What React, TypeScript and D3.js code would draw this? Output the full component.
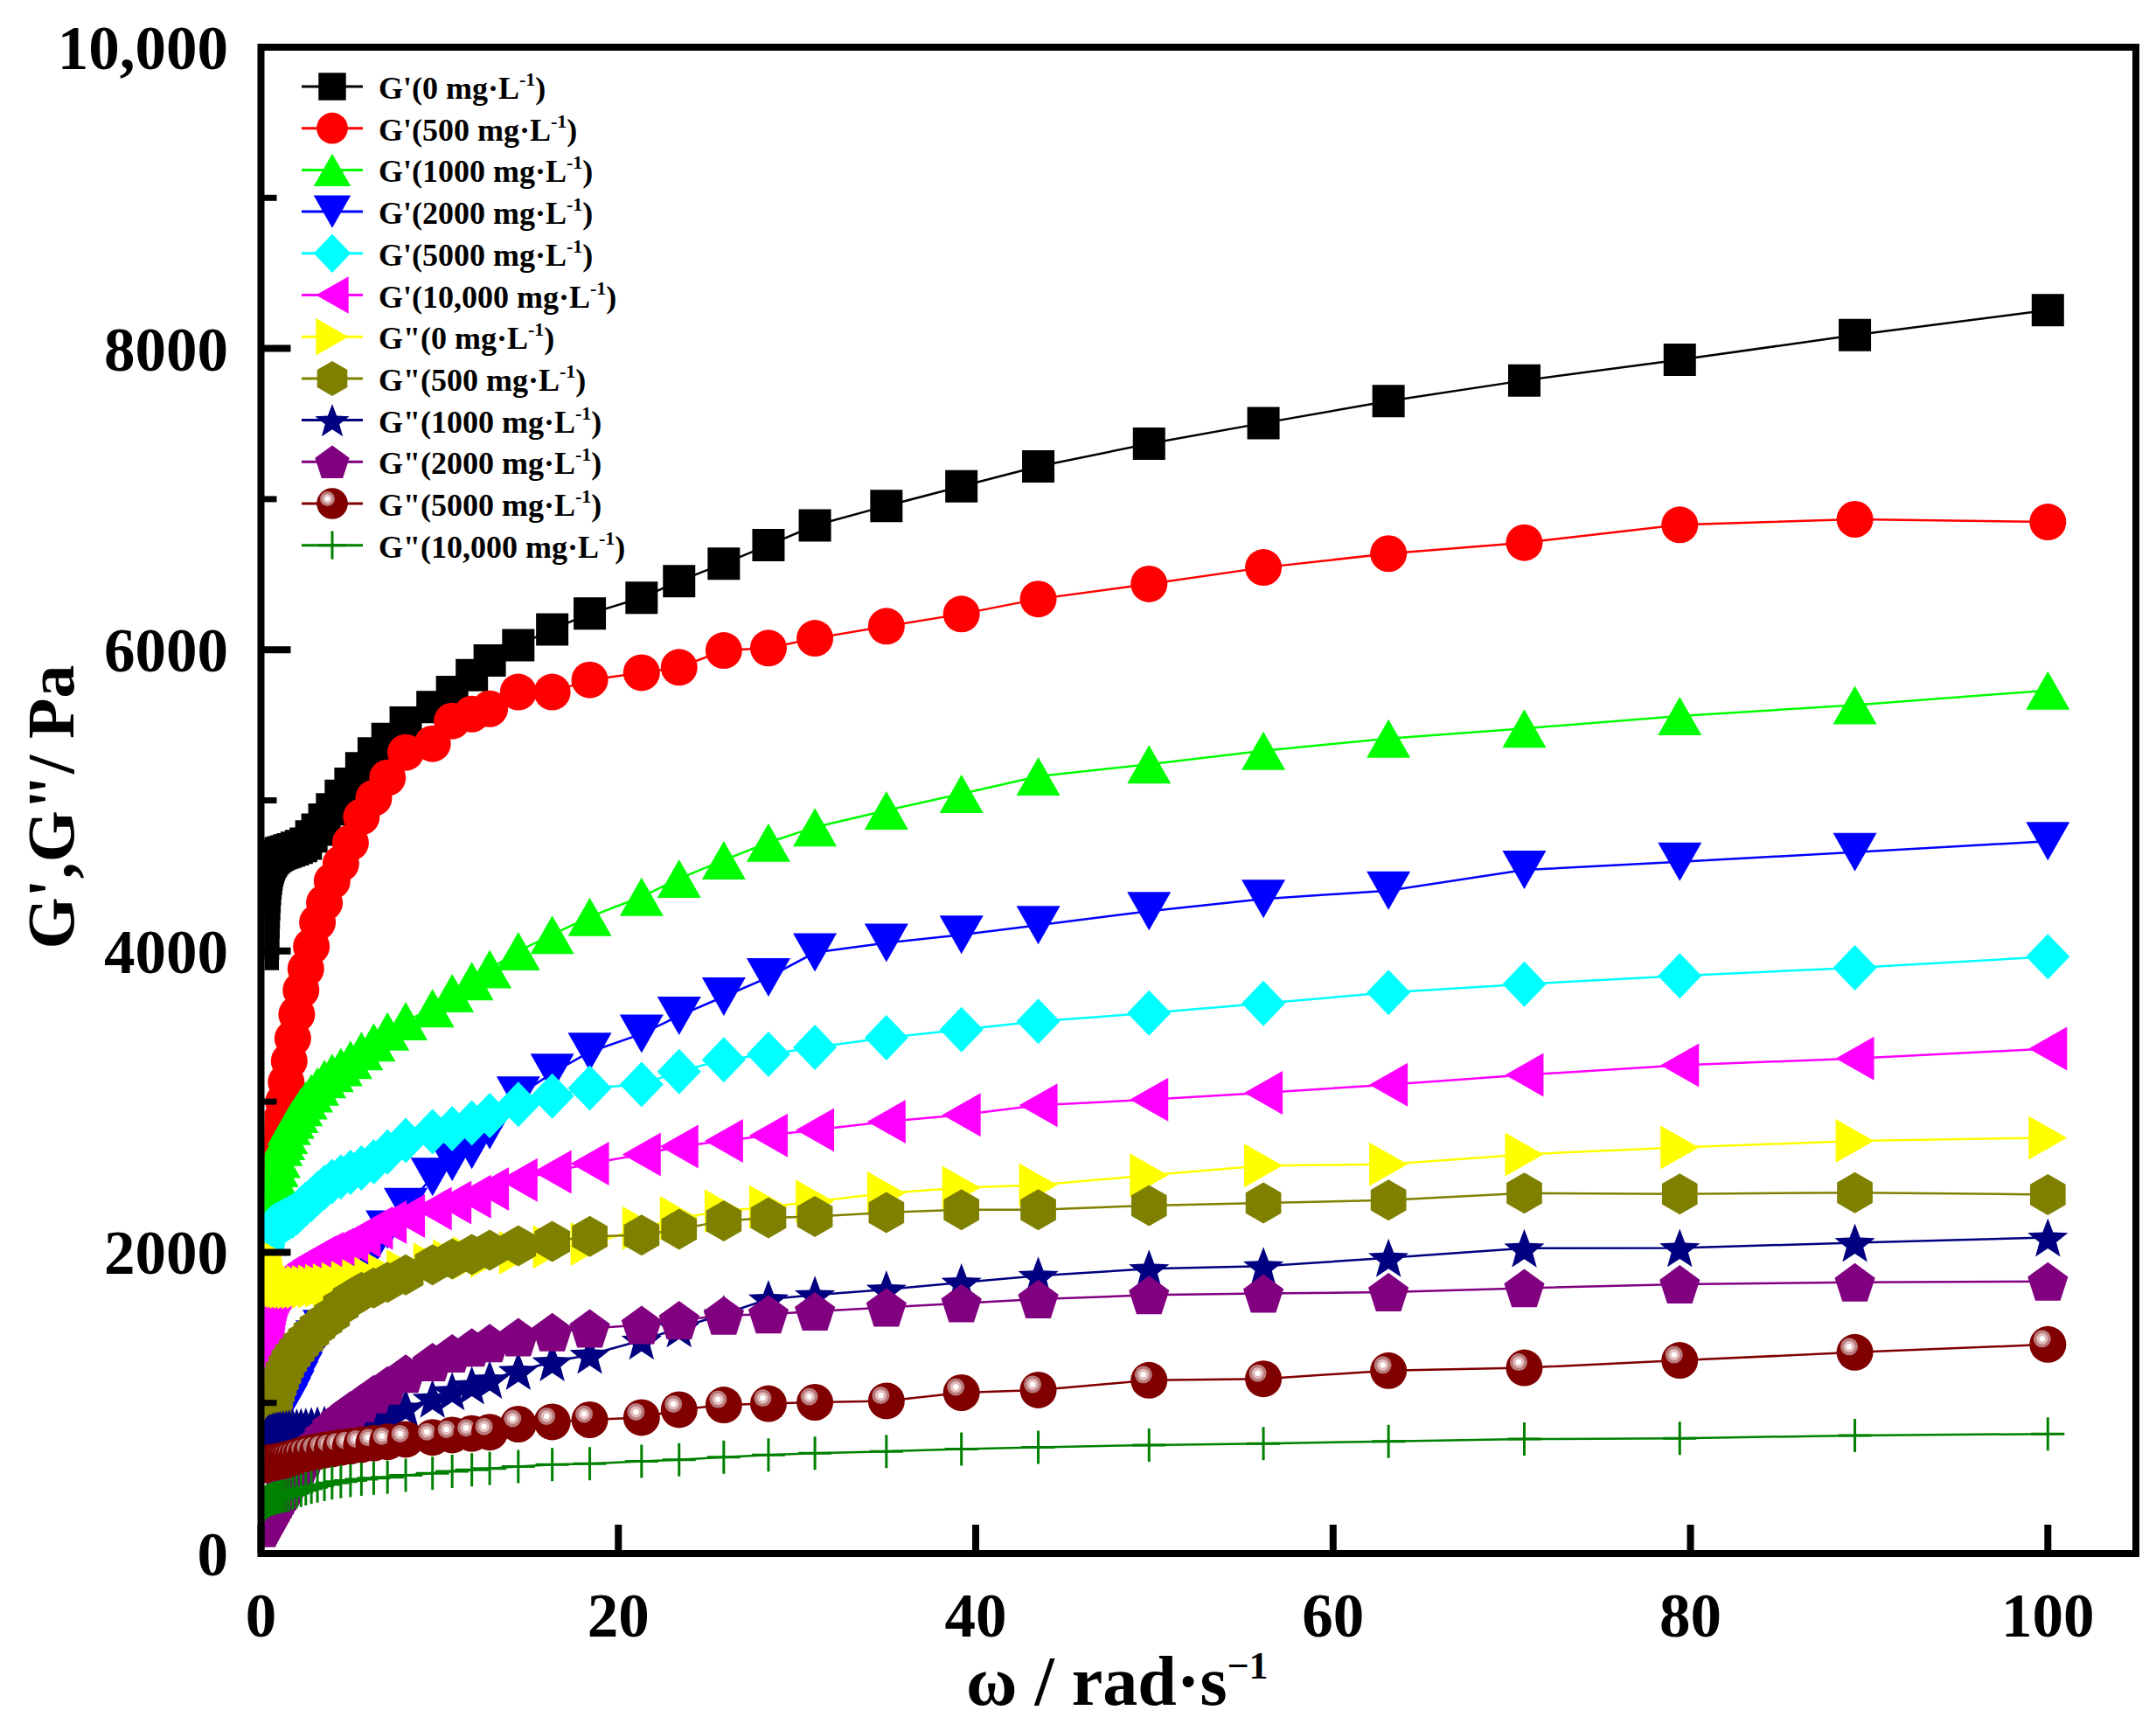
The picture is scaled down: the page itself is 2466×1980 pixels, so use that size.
import React, { useEffect, useRef } from "react";
import * as d3 from "d3";

// angular frequency, rad/s (shared by every series)
const omega = [
    0.1, 0.112, 0.126, 0.141, 0.158, 0.178, 0.2, 0.224, 0.251, 0.282,
    0.316, 0.355, 0.398, 0.447, 0.501, 0.562, 0.631, 0.708, 0.794, 0.891,
    1.0, 1.12, 1.26, 1.41, 1.58, 1.78, 2.0, 2.24, 2.51, 2.82,
    3.16, 3.55, 3.98, 4.47, 5.01, 5.62, 6.31, 7.08, 8.1, 9.6,
    10.7, 11.8, 12.8, 14.4, 16.3, 18.4, 21.3, 23.4, 25.9, 28.4,
    31.0, 35.0, 39.2, 43.5, 49.7, 56.1, 63.1, 70.7, 79.4, 89.2,
    100,
];

// storage modulus G', Pa
const gp0 = [
    3980, 4050, 4120, 4190, 4250, 4310, 4360, 4410, 4450, 4480,
    4510, 4535, 4555, 4572, 4588, 4600, 4612, 4622, 4630, 4637,
    4643, 4650, 4655, 4660, 4668, 4675, 4685, 4697, 4712, 4760,
    4806, 4872, 4941, 5031, 5110, 5213, 5312, 5407, 5517, 5619,
    5720, 5831, 5928, 6030, 6135, 6240, 6345, 6456, 6572, 6694,
    6825, 6955, 7085, 7217, 7368, 7505, 7651, 7788, 7925, 8089,
    8254,
];
const gp500 = [
    2540, 2548, 2555, 2562, 2568, 2574, 2580, 2586, 2592, 2598,
    2604, 2610, 2616, 2624, 2632, 2642, 2655, 2670, 2700, 2740,
    2790, 2880, 3000, 3130, 3270, 3420, 3580, 3740, 3882, 4030,
    4190, 4320, 4464, 4580, 4719, 4890, 5015, 5150, 5318, 5376,
    5527, 5573, 5608, 5719, 5719, 5800, 5848, 5883, 5995, 6011,
    6076, 6156, 6237, 6337, 6437, 6546, 6638, 6711, 6829, 6866,
    6848,
];
const gp1000 = [
    2180, 2185, 2190, 2195, 2200, 2205, 2212, 2220, 2230, 2240,
    2250, 2265, 2280, 2300, 2330, 2360, 2400, 2450, 2500, 2560,
    2620, 2700, 2740, 2780, 2840, 2880, 2920, 2965, 3010, 3055,
    3100, 3150, 3190, 3230, 3278, 3336, 3394, 3467, 3534, 3620,
    3720, 3800, 3880, 3999, 4108, 4227, 4360, 4480, 4603, 4720,
    4822, 4933, 5043, 5160, 5240, 5330, 5410, 5478, 5560, 5633,
    5730,
];
const gp2000 = [
    720, 730, 740, 750, 760, 770, 780, 790, 800, 810,
    820, 830, 840, 850, 860, 870, 880, 890, 900, 910,
    920, 940, 970, 1000, 1040, 1090, 1150, 1210, 1280, 1350,
    1420, 1490, 1560, 1680, 1800, 1920, 2030, 2150, 2300, 2500,
    2600, 2680, 2810, 3040, 3190, 3330, 3450, 3570, 3697, 3825,
    3990, 4054, 4108, 4172, 4264, 4346, 4401, 4538, 4592, 4656,
    4729,
];
const gp5000 = [
    2005, 2020, 2035, 2050, 2062, 2074, 2085, 2095, 2104, 2112,
    2120, 2128, 2135, 2142, 2149, 2156, 2163, 2170, 2177, 2184,
    2190, 2198, 2207, 2217, 2228, 2242, 2260, 2290, 2320, 2350,
    2390, 2430, 2470, 2500, 2530, 2560, 2600, 2665, 2743, 2801,
    2820, 2859, 2907, 2981, 3037, 3091, 3114, 3200, 3278, 3314,
    3360, 3424, 3478, 3533, 3588, 3652, 3725, 3780, 3835, 3889,
    3962,
];
const gp10000 = [
    1250, 1300, 1350, 1400, 1450, 1490, 1530, 1570, 1600, 1630,
    1660, 1685, 1705, 1722, 1738, 1752, 1765, 1776, 1786, 1796,
    1805, 1815, 1825, 1835, 1845, 1857, 1870, 1895, 1920, 1945,
    1968, 1990, 2010, 2035, 2070, 2110, 2160, 2200, 2240, 2290,
    2330, 2370, 2420, 2480, 2534, 2588, 2650, 2702, 2739, 2776,
    2812, 2867, 2912, 2976, 3013, 3059, 3113, 3177, 3241, 3287,
    3351,
];

// loss modulus G'', Pa
const gpp0 = [
    2000, 1985, 1970, 1955, 1940, 1925, 1912, 1900, 1888, 1876,
    1865, 1855, 1845, 1836, 1828, 1820, 1812, 1805, 1798, 1792,
    1786, 1781, 1777, 1773, 1770, 1768, 1767, 1767, 1768, 1770,
    1773, 1777, 1782, 1789, 1798, 1810, 1825, 1845, 1875, 1920,
    1942, 1962, 1975, 1997, 2035, 2055, 2160, 2228, 2273, 2301,
    2337, 2392, 2429, 2447, 2511, 2575, 2584, 2650, 2696, 2739,
    2760,
];
const gpp500 = [
    650, 680, 710, 740, 765, 790, 812, 832, 850, 866,
    880, 893, 905, 917, 928, 940, 960, 990, 1030, 1080,
    1120, 1160, 1200, 1240, 1280, 1315, 1350, 1385, 1420, 1460,
    1500, 1540, 1580, 1640, 1690, 1734, 1763, 1801, 1850, 1917,
    1956, 1985, 2014, 2043, 2072, 2106, 2114, 2153, 2209, 2228,
    2237, 2264, 2283, 2283, 2310, 2328, 2346, 2392, 2387, 2396,
    2383,
];
const gpp1000 = [
    700, 710, 720, 730, 740, 748, 756, 764, 770, 776,
    782, 787, 792, 796, 800, 803, 806, 809, 812, 815,
    818, 821, 824, 827, 830, 833, 836, 839, 842, 846,
    850, 855, 862, 870, 880, 892, 910, 935, 968, 1029,
    1078, 1117, 1155, 1213, 1271, 1320, 1415, 1496, 1590, 1689,
    1716, 1753, 1799, 1844, 1890, 1908, 1963, 2027, 2029, 2063,
    2098,
];
const gpp2000 = [
    170, 174, 178, 182, 186, 190, 195, 200, 206, 212,
    219, 227, 236, 246, 257, 270, 284, 300, 318, 338,
    360, 385, 412, 442, 475, 512, 552, 595, 640, 690,
    742, 796, 850, 903, 951, 1000, 1058, 1116, 1194, 1271,
    1329, 1368, 1397, 1436, 1470, 1494, 1518, 1550, 1580, 1589,
    1607, 1634, 1662, 1689, 1716, 1726, 1735, 1762, 1787, 1800,
    1806,
];
const gpp5000 = [
    588, 589, 590, 591, 592, 593, 594, 595, 596, 597,
    598, 599, 600, 601, 602, 603, 604, 606, 608, 610,
    612, 615, 619, 624, 629, 635, 642, 652, 661, 671,
    677, 687, 694, 704, 713, 723, 733, 742, 758, 771,
    787, 797, 806, 859, 874, 888, 903, 955, 986, 995,
    1004, 1013, 1068, 1086, 1150, 1160, 1214, 1233, 1282, 1336,
    1388,
];
const gpp10000 = [
    310, 314, 318, 322, 326, 330, 333, 336, 339, 342,
    345, 348, 351, 354, 357, 360, 363, 366, 369, 372,
    375, 378, 381, 385, 390, 400, 410, 419, 429, 439,
    448, 458, 468, 478, 485, 493, 501, 507, 520, 532,
    545, 555, 565, 578, 590, 597, 613, 623, 640, 655,
    666, 678, 694, 705, 720, 730, 745, 760, 765, 784,
    794,
];

const seriesLabels = [
    "G'(0 mg·L", "G'(500 mg·L", "G'(1000 mg·L", "G'(2000 mg·L", "G'(5000 mg·L", "G'(10,000 mg·L",
    'G"(0 mg·L', 'G"(500 mg·L', 'G"(1000 mg·L', 'G"(2000 mg·L', 'G"(5000 mg·L', 'G"(10,000 mg·L',
];
const seriesColors = [
    "#000000", "#ff0000", "#00ff00", "#0000ff", "#00ffff", "#ff00ff",
    "#ffff00", "#808000", "#000080", "#800080", "#800000", "#008000",
];
const seriesShapes = [
    "square", "circle", "triUp", "triDown", "diamond", "triLeft",
    "triRight", "hexagon", "star", "pentagon", "sphere", "cross",
];

const xTicks = [0, 20, 40, 60, 80, 100];
const yTicks = [0, 2000, 4000, 6000, 8000, 10000];
const yTickLabels = ["0", "2000", "4000", "6000", "8000", "10,000"];
const yMinorTicks = [1000, 3000, 5000, 7000, 9000];

const W = 2466;
const H = 1980;
const FONT = "'Liberation Serif', 'Times New Roman', Times, serif";

type Pt = [number, number];

function polygon(n: number, r: number, rot: number, dy = 0): string {
    const pts = d3.range(n).map((i) => {
        const a = ((rot + (360 / n) * i) * Math.PI) / 180;
        return [r * Math.cos(a), r * Math.sin(a) + dy];
    });
    return "M" + pts.map((p) => p.join(",")).join("L") + "Z";
}

function shapePath(shape: string, k: number): string {
    if (shape === "square") {
        const s = 18.5 * k;
        return `M${-s},${-s}H${s}V${s}H${-s}Z`;
    }
    if (shape === "triUp") return `M0,${-22 * k}L${25 * k},${22 * k}L${-25 * k},${22 * k}Z`;
    if (shape === "triDown") return `M0,${22 * k}L${25 * k},${-22 * k}L${-25 * k},${-22 * k}Z`;
    if (shape === "triLeft") return `M${-22 * k},0L${22 * k},${-25 * k}L${22 * k},${25 * k}Z`;
    if (shape === "triRight") return `M${22 * k},0L${-22 * k},${-25 * k}L${-22 * k},${25 * k}Z`;
    if (shape === "diamond") return `M0,${-26 * k}L${25 * k},0L0,${26 * k}L${-25 * k},0Z`;
    if (shape === "hexagon") return polygon(6, 23.5 * k, -90);
    if (shape === "pentagon") return polygon(5, 24.3 * k, -90, 2.3 * k);
    if (shape === "star") {
        const R = 24.3 * k;
        const r = R * 0.42;
        const pts = d3.range(10).map((i) => {
            const a = ((-90 + 36 * i) * Math.PI) / 180;
            const rr = i % 2 === 0 ? R : r;
            return [rr * Math.cos(a), rr * Math.sin(a) + 2.3 * k];
        });
        return "M" + pts.map((p) => p.join(",")).join("L") + "Z";
    }
    if (shape === "cross") {
        const c = 19 * k;
        return `M${-c},0H${c}M0,${-c}V${c}`;
    }
    return "";
}

function drawMarkers(
    g: d3.Selection<SVGGElement, unknown, null, undefined>,
    shape: string,
    color: string,
    pts: Pt[],
    k: number
) {
    if (shape === "circle") {
        g.selectAll("circle")
            .data(pts)
            .join("circle")
            .attr("cx", (d) => d[0])
            .attr("cy", (d) => d[1])
            .attr("r", 21 * k)
            .attr("fill", color);
        return;
    }
    if (shape === "sphere") {
        const s = g
            .selectAll("g")
            .data(pts)
            .join("g")
            .attr("transform", (d) => `translate(${d[0]},${d[1]})`);
        s.append("circle").attr("r", 21 * k).attr("fill", color);
        s.append("circle").attr("cx", -6.5 * k).attr("cy", -6.5 * k).attr("r", 10 * k).attr("fill", "#b87a7a");
        s.append("circle").attr("cx", -6.5 * k).attr("cy", -6.5 * k).attr("r", 6.5 * k).attr("fill", "#e2bcbc");
        s.append("circle").attr("cx", -6.5 * k).attr("cy", -6.5 * k).attr("r", 3.2 * k).attr("fill", "#ffffff");
        return;
    }
    const p = g
        .selectAll("path")
        .data(pts)
        .join("path")
        .attr("d", shapePath(shape, k))
        .attr("transform", (d) => `translate(${d[0]},${d[1]})`);
    if (shape === "cross") {
        p.attr("fill", "none").attr("stroke", color).attr("stroke-width", 3);
    } else {
        p.attr("fill", color);
    }
}

const App: React.FC = () => {
    const svgRef = useRef<SVGSVGElement | null>(null);

    useEffect(() => {
        if (!svgRef.current) return;
        document.body.style.margin = "0";

        const svg = d3.select(svgRef.current);
        svg.selectAll("*").remove();
        svg.attr("width", W)
            .attr("height", H)
            .style("display", "block")
            .style("background", "#ffffff");

        const left = 298.5;
        const right = 2443;
        const top = 54;
        const bottom = 1777;

        const x = d3.scaleLinear().domain([0, 100]).range([left, 2342.3]);
        const y = d3.scaleLinear().domain([0, 10000]).range([bottom, top]);

        const seriesData = [gp0, gp500, gp1000, gp2000, gp5000, gp10000, gpp0, gpp500, gpp1000, gpp2000, gpp5000, gpp10000];

        svg.append("defs")
            .append("clipPath")
            .attr("id", "plotClip")
            .append("rect")
            .attr("x", left + 4)
            .attr("y", top + 4)
            .attr("width", right - left - 8)
            .attr("height", bottom - top - 8);

        // Data
        const plot = svg.append("g").attr("clip-path", "url(#plotClip)");
        const line = d3.line<Pt>();
        seriesData.forEach((vals, si) => {
            const pts: Pt[] = omega.map((w, i) => [x(w), y(vals[i])]);
            const color = seriesColors[si];
            plot.append("path")
                .datum(pts)
                .attr("d", line)
                .attr("fill", "none")
                .attr("stroke", color)
                .attr("stroke-width", 2.5);
            drawMarkers(plot.append("g"), seriesShapes[si], color, pts, 1);
        });

        // Frame
        svg.append("rect")
            .attr("x", left)
            .attr("y", top)
            .attr("width", right - left)
            .attr("height", bottom - top)
            .attr("fill", "none")
            .attr("stroke", "#000")
            .attr("stroke-width", 8);

        // Y ticks
        svg.selectAll(".ymaj")
            .data(yTicks)
            .join("line")
            .attr("class", "ymaj")
            .attr("x1", left)
            .attr("x2", left + 34)
            .attr("y1", (d) => y(d))
            .attr("y2", (d) => y(d))
            .attr("stroke", "#000")
            .attr("stroke-width", 8);
        svg.selectAll(".ymin")
            .data(yMinorTicks)
            .join("line")
            .attr("class", "ymin")
            .attr("x1", left)
            .attr("x2", left + 18)
            .attr("y1", (d) => y(d))
            .attr("y2", (d) => y(d))
            .attr("stroke", "#000")
            .attr("stroke-width", 7);
        svg.selectAll(".ylab")
            .data(yTicks)
            .join("text")
            .attr("class", "ylab")
            .attr("x", 261)
            .attr("y", (d) => y(d) + 25)
            .attr("text-anchor", "end")
            .attr("font-family", FONT)
            .attr("font-weight", "bold")
            .attr("font-size", 71)
            .text((d, i) => yTickLabels[i]);

        // X ticks
        svg.selectAll(".xmaj")
            .data(xTicks)
            .join("line")
            .attr("class", "xmaj")
            .attr("x1", (d) => x(d))
            .attr("x2", (d) => x(d))
            .attr("y1", bottom)
            .attr("y2", bottom - 33)
            .attr("stroke", "#000")
            .attr("stroke-width", 8);
        svg.selectAll(".xlab")
            .data(xTicks)
            .join("text")
            .attr("class", "xlab")
            .attr("x", (d) => x(d))
            .attr("y", 1872)
            .attr("text-anchor", "middle")
            .attr("font-family", FONT)
            .attr("font-weight", "bold")
            .attr("font-size", 71)
            .text((d) => String(d));

        // Axis titles
        const xt = svg
            .append("text")
            .attr("x", 1105)
            .attr("y", 1950)
            .attr("font-family", FONT)
            .attr("font-weight", "bold")
            .attr("font-size", 80);
        xt.append("tspan").text("ω / rad·s");
        xt.append("tspan").attr("dy", -30).attr("font-size", 44).text("−1");

        svg.append("text")
            .attr("transform", "translate(84,923) rotate(-90)")
            .attr("text-anchor", "middle")
            .attr("font-family", FONT)
            .attr("font-weight", "bold")
            .attr("font-size", 76)
            .text(`G',G"/ Pa`);

        // Legend
        const legend = svg
            .selectAll(".legend")
            .data(seriesLabels)
            .join("g")
            .attr("class", "legend")
            .attr("transform", (d, i) => `translate(0,${99 + i * 47.7})`);

        legend.each(function (label, i) {
            const lg = d3.select(this as SVGGElement);
            lg.append("line")
                .attr("x1", 345)
                .attr("x2", 415)
                .attr("y1", 0)
                .attr("y2", 0)
                .attr("stroke", seriesColors[i])
                .attr("stroke-width", 3);
            drawMarkers(lg.append("g"), seriesShapes[i], seriesColors[i], [[380, 0]], 0.85);
            const t = lg
                .append("text")
                .attr("x", 433)
                .attr("y", 14)
                .attr("font-family", FONT)
                .attr("font-weight", "bold")
                .attr("font-size", 36);
            t.append("tspan").text(label);
            t.append("tspan").attr("dy", -15).attr("font-size", 22).text("-1");
            t.append("tspan").attr("dy", 15).text(")");
        });
    }, []);

    return <svg ref={svgRef}></svg>;
};

export default App;
